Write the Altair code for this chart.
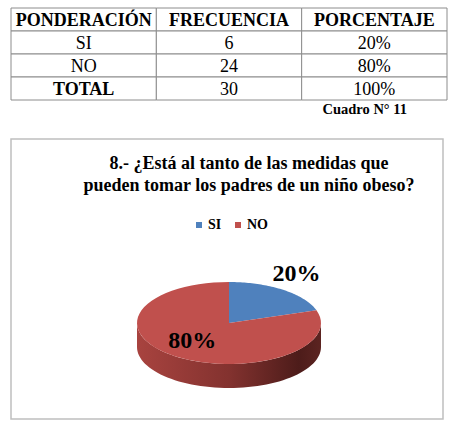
import altair as alt
import pandas as pd

# ---- data ----
categories = ["SI", "NO"]
frequencies = [6, 24]
percent_labels = ["20%", "80%"]
total_label = "TOTAL"
total_value = 30
total_percent = "100%"
headers = ["PONDERACIÓN", "FRECUENCIA", "PORCENTAJE"]
caption = "Cuadro N° 11"
title_lines = ["8.- ¿Está al tanto de las medidas que",
               "pueden tomar los padres de un niño obeso?"]
colors = ["#4F81BD", "#C0504D"]

SERIF = "Liberation Serif, Times New Roman, Times, serif"

# ---- table ----
cells = []
for j, h in enumerate(headers):
    cells.append({"r": 0, "c": j, "t": h, "b": 1})
for i, (cat, f, p) in enumerate(zip(categories, frequencies, percent_labels)):
    cells += [{"r": i + 1, "c": 0, "t": cat, "b": 0},
              {"r": i + 1, "c": 1, "t": str(f), "b": 0},
              {"r": i + 1, "c": 2, "t": p, "b": 0}]
n = len(categories) + 1
cells += [{"r": n, "c": 0, "t": total_label, "b": 1},
          {"r": n, "c": 1, "t": str(total_value), "b": 0},
          {"r": n, "c": 2, "t": total_percent, "b": 0}]
tdf = pd.DataFrame(cells)

band = alt.Scale(paddingInner=0, paddingOuter=0)
tbase = alt.Chart(tdf).encode(
    x=alt.X("c:O", scale=band, axis=None),
    y=alt.Y("r:O", scale=band, axis=None),
)
trect = tbase.mark_rect(fill="white", stroke="#8c8c8c", strokeWidth=1)
ttext_n = tbase.transform_filter("datum.b == 0").mark_text(
    font=SERIF, fontSize=18, baseline="middle", color="black", dy=1
).encode(text="t:N")
ttext_b = tbase.transform_filter("datum.b == 1").mark_text(
    font=SERIF, fontSize=18, fontWeight="bold", baseline="middle", color="black", dy=1
).encode(text="t:N")
tcap = alt.Chart(alt.Data(values=[{}])).mark_text(
    text=caption, font=SERIF, fontSize=14.5, fontWeight="bold",
    align="right", baseline="alphabetic", color="black"
).encode(x=alt.value(396), y=alt.value(106))

table = alt.layer(trect, ttext_n, ttext_b, tcap).properties(
    width=436, height=92, view=alt.ViewBackground(stroke=None)
)

# ---- 3D pie ----
W, H = 432, 280
CX, CY, RX, RY, DEPTH = 218, 184, 92, 41, 24
N = 60

pdf = pd.DataFrame({"cat": categories, "val": frequencies, "idx": list(range(len(categories)))})

xs = alt.Scale(domain=[0, W], nice=False, zero=False)
ys = alt.Scale(domain=[0, H], nice=False, zero=False, reverse=True)
cscale = alt.Scale(domain=categories, range=colors)

pbase = alt.Chart(pdf).transform_joinaggregate(
    total="sum(val)"
).transform_window(
    cum="sum(val)", sort=[alt.SortField("idx")], frame=[None, 0]
).transform_calculate(
    a0="2*PI*(datum.cum-datum.val)/datum.total",
    a1="2*PI*datum.cum/datum.total",
)

side = pbase.transform_calculate(
    lo="max(datum.a0, PI/2)", hi="min(datum.a1, 3*PI/2)"
).transform_filter("datum.lo < datum.hi").transform_calculate(
    s=f"sequence(0, {N + 1})"
).transform_flatten(["s"]).transform_calculate(
    ang=f"datum.lo + (datum.hi-datum.lo)*datum.s/{N}",
    px=f"{CX} + {RX}*sin(datum.ang)",
    py=f"{CY} - {RY}*cos(datum.ang)",
    py2=f"{CY} - {RY}*cos(datum.ang) + {DEPTH}",
).mark_area(
    color=alt.Gradient(
        gradient="linear", x1=0, x2=1, y1=0, y2=0,
        stops=[alt.GradientStop(color="#a8433f", offset=0),
               alt.GradientStop(color="#83322f", offset=0.5),
               alt.GradientStop(color="#4d1c1a", offset=0.88),
               alt.GradientStop(color="#5c2421", offset=1)]
    )
).encode(
    x=alt.X("px:Q", scale=xs, axis=None),
    y=alt.Y("py:Q", scale=ys, axis=None),
    y2="py2:Q",
    detail="cat:N",
)

top = pbase.transform_calculate(
    s=f"sequence(-1, {N + 1})"
).transform_flatten(["s"]).transform_calculate(
    ang=f"datum.a0 + (datum.a1-datum.a0)*max(datum.s,0)/{N}",
).transform_calculate(
    px=f"datum.s < 0 ? {CX} : {CX} + {RX}*sin(datum.ang)",
    py=f"datum.s < 0 ? {CY} : {CY} - {RY}*cos(datum.ang)",
).mark_line(filled=True, strokeWidth=0.5).encode(
    x=alt.X("px:Q", scale=xs, axis=None),
    y=alt.Y("py:Q", scale=ys, axis=None),
    order="s:Q",
    color=alt.Color("cat:N", scale=cscale, legend=alt.Legend(
        orient="none", legendX=181, legendY=210, direction="horizontal", title=None,
        symbolType="square", symbolSize=36, symbolStrokeWidth=0,
        labelFont=SERIF, labelFontWeight="bold", labelFontSize=14,
        labelColor="black", columnPadding=9, labelOffset=2,
    )),
)

labels = pbase.transform_calculate(
    mid="(datum.a0+datum.a1)/2",
    out="datum.val/datum.total < 0.5",
    lab="format(datum.val/datum.total, '.0%')",
).transform_calculate(
    r="datum.out ? 1.25 : 0.55",
).transform_calculate(
    lx=f"{CX} + {RX}*datum.r*sin(datum.mid) + (datum.out ? 0 : -7)",
    ly=f"{CY} - {RY}*datum.r*cos(datum.mid) + (datum.out ? -8 : 0)",
).mark_text(
    font=SERIF, fontSize=24, fontWeight="bold", color="black", baseline="middle"
).encode(
    x=alt.X("lx:Q", scale=xs, axis=None),
    y=alt.Y("ly:Q", scale=ys, axis=None),
    text="lab:N",
)

ptitle = alt.Chart(alt.Data(values=[{}])).mark_text(
    text=title_lines, font=SERIF, fontSize=18, fontWeight="bold",
    align="center", baseline="alphabetic", lineHeight=22, color="black"
).encode(x=alt.value(238), y=alt.value(30))

pie = alt.layer(side, top, labels, ptitle).properties(
    width=W, height=H, view=alt.ViewBackground(stroke="#bfbfbf", strokeWidth=1.5)
)

chart = alt.vconcat(table, pie, spacing=39, bounds="flush").properties(
    padding={"left": 10, "top": 7, "right": 0, "bottom": 0}
).configure_view(stroke=None)

chart.save("out.html", embed_options={"renderer": "svg", "actions": False})
